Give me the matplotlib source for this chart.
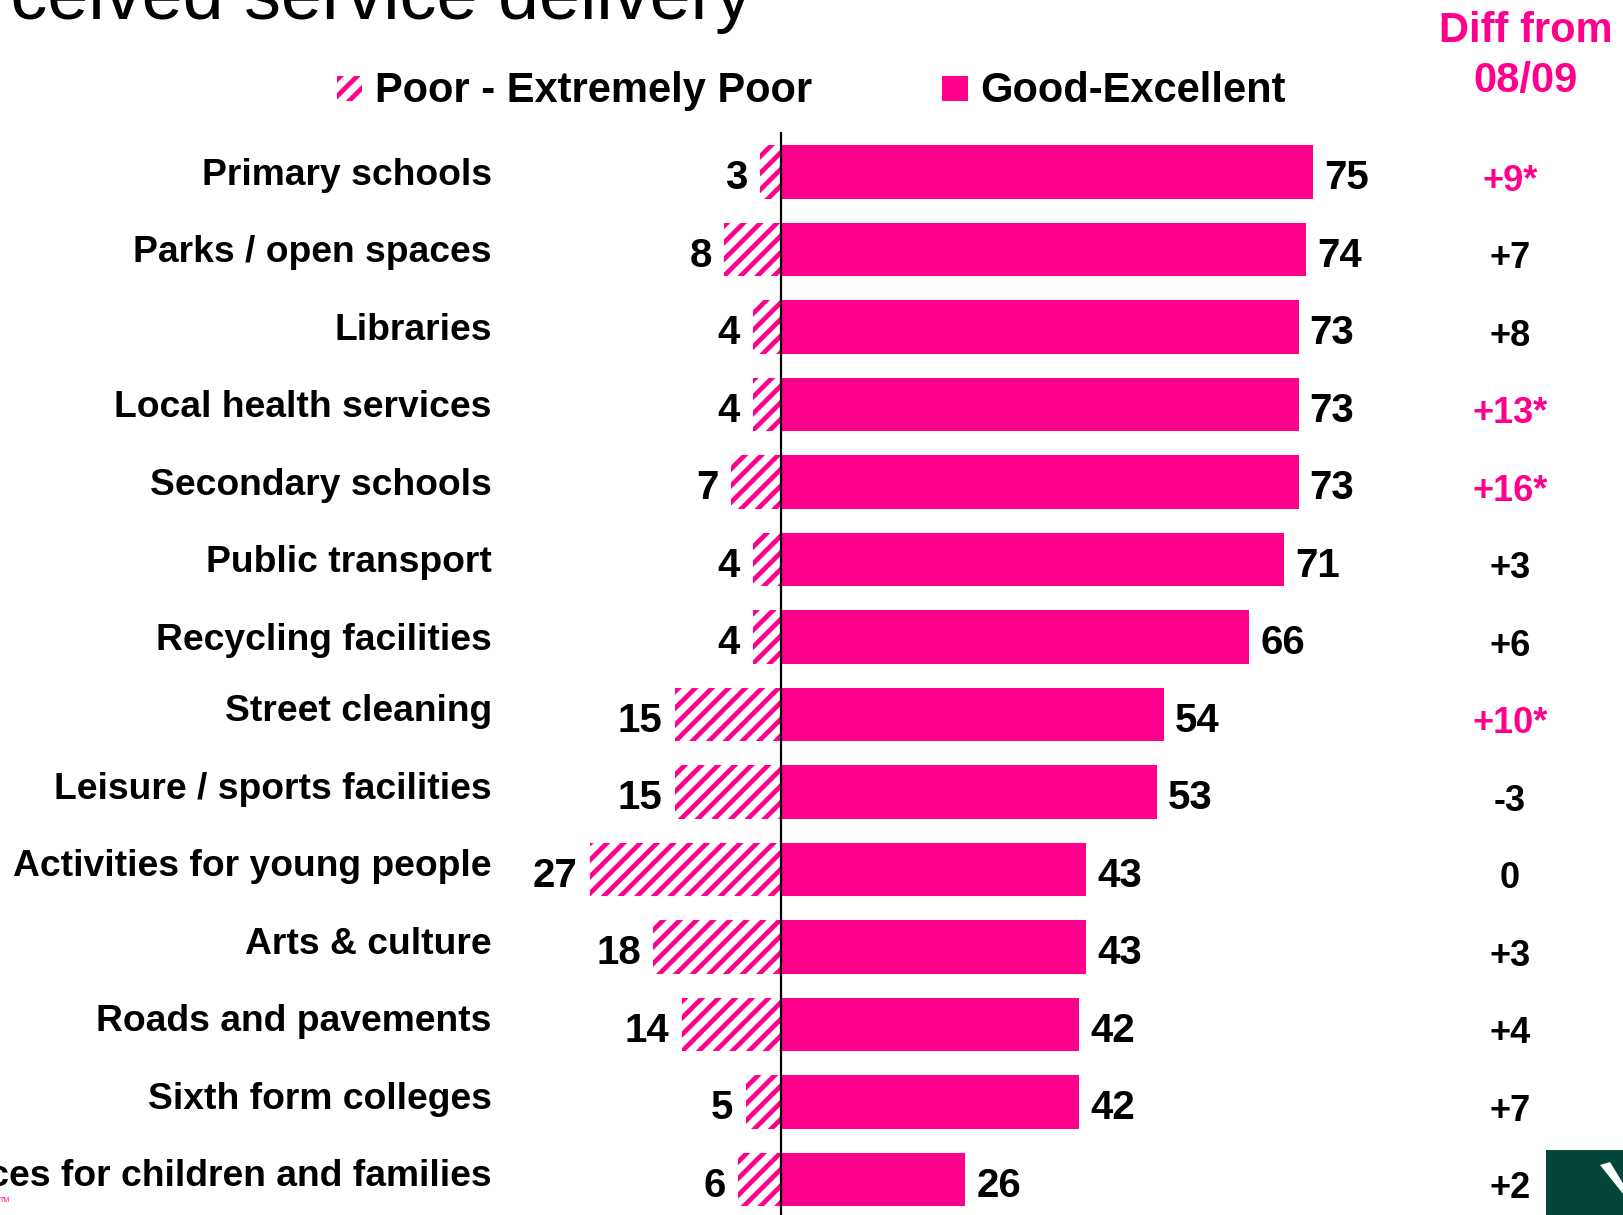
import matplotlib
matplotlib.use("Agg")
import matplotlib.pyplot as plt
from matplotlib.patches import Rectangle, Polygon

# === Data ===
categories = ["Primary schools", "Parks / open spaces", "Libraries", "Local health services",
              "Secondary schools", "Public transport", "Recycling facilities", "Street cleaning",
              "Leisure / sports facilities", "Activities for young people", "Arts & culture",
              "Roads and pavements", "Sixth form colleges", "Services for children and families"]
poor = [3, 8, 4, 4, 7, 4, 4, 15, 15, 27, 18, 14, 5, 6]
good = [75, 74, 73, 73, 73, 71, 66, 54, 53, 43, 43, 42, 42, 26]
diff = ["+9*", "+7", "+8", "+13*", "+16*", "+3", "+6", "+10*", "-3", "0", "+3", "+4", "+7", "+2"]

PINK = "#FF008C"
W, H = 1624, 1215

plt.rcParams['font.family'] = ['Liberation Sans', 'DejaVu Sans']
plt.rcParams['hatch.linewidth'] = 3.4

fig = plt.figure(figsize=(W / 100, H / 100), dpi=100)
ax = fig.add_axes([0, 0, 1, 1])

# pixel mapping: x=0 at px 781, 7.09 px per unit; row pitch 77.5 px, first row at px 172
px_unit = 7.09
ax.set_xlim(-781 / px_unit, (W - 781) / px_unit)
ax.set_ylim((H - 172) / 77.5, -172 / 77.5)
ax.axis("off")

rows = list(range(len(categories)))

# === Bars ===
ax.barh(rows, good, height=0.69, color=PINK, linewidth=0)
ax.barh(rows, [-p for p in poor], height=0.69, color="white", edgecolor=PINK,
        hatch="//", linewidth=0)
ax.plot([0, 0], [-0.5, (H - 172) / 77.5], color="black", lw=1.6, zorder=5)

# === Labels ===
for i, (cat, p, g, d) in enumerate(zip(categories, poor, good, diff)):
    label_dy = 0.04 if i < 7 else -0.035  # lower labels sit a bit higher in the original
    ax.text(-40.8, i + label_dy, cat, ha="right", va="center", fontsize=26.8, fontweight="bold")
    ax.annotate(str(p), (-p, i + 0.08), xytext=(-9, 0), textcoords="offset points",
                ha="right", va="center", fontsize=29, fontweight="bold")
    ax.annotate(str(g), (g, i + 0.08), xytext=(8, 0), textcoords="offset points",
                ha="left", va="center", fontsize=29, fontweight="bold")
    ax.text(102.8, i + 0.12, d, ha="center", va="center", fontsize=26,
            fontweight="bold", color=PINK if d.endswith("*") else "black")

# === Title, legend, header ===
fig.text(752 / W, 1 - 19 / H, "Perceived service delivery", ha="right", va="baseline",
         fontsize=53)
ax.add_patch(Rectangle((337 / W, 1 - 101 / H), 25 / W, 25 / H, transform=ax.transAxes,
                       facecolor="white", edgecolor=PINK, hatch="//", linewidth=0))
fig.text(375 / W, 1 - 91 / H, "Poor - Extremely Poor", ha="left", va="center",
         fontsize=30, fontweight="bold")
ax.add_patch(Rectangle((942 / W, 1 - 101 / H), 26 / W, 25 / H, transform=ax.transAxes,
                       facecolor=PINK, linewidth=0))
fig.text(980 / W, 1 - 91 / H, "Good-Excellent", ha="left", va="center",
         fontsize=30, fontweight="bold")
fig.text(1526 / W, 1 - 31 / H, "Diff from", ha="center", va="center", fontsize=30,
         fontweight="bold", color=PINK)
fig.text(1526 / W, 1 - 81 / H, "08/09", ha="center", va="center", fontsize=30,
         fontweight="bold", color=PINK)

# logo corner + tiny TM
ax.add_patch(Rectangle((1546 / W, 0), (W - 1546) / W, 65 / H, transform=ax.transAxes,
                       facecolor="#04473A", linewidth=0))
ax.add_patch(Polygon([(1600 / W, 1 - 1165 / H), (1610 / W, 1 - 1162 / H),
                      (1624 / W, 1 - 1185 / H), (1624 / W, 1 - 1195 / H)],
                     closed=True, transform=ax.transAxes, facecolor="white", linewidth=0))
fig.text(0 / W, 1 - 1200 / H, "TM", ha="left", va="center", fontsize=5, color=PINK)

fig.savefig("out.png", dpi=100)
